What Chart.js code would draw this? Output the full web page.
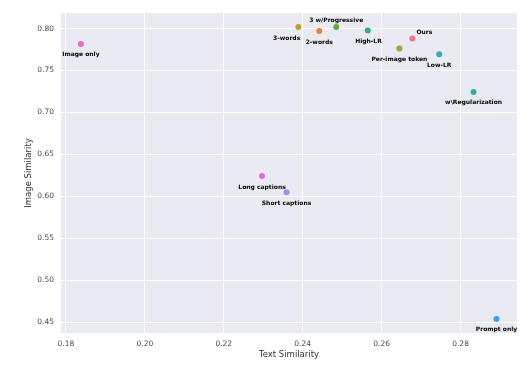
<!DOCTYPE html>
<html>
<head>
<meta charset="utf-8">
<script src="https://cdn.jsdelivr.net/npm/chart.js@4/dist/chart.umd.min.js"></script>
<style>
html,body{margin:0;padding:0;background:#fff;}
#wrap{width:524px;height:367px;}
</style>
</head>
<body>
<div id="wrap"><canvas id="c" width="524" height="367"></canvas></div>
<script>
const methods = ["Ours","2-words","3-words","Per-image token","3 w/Progressive","High-LR","w\\Regularization","Low-LR","Prompt only","Short captions","Long captions","Image only"];
const textSim  = [0.2678,0.2442,0.2389,0.2645,0.2485,0.2565,0.2833,0.2746,0.2891,0.2359,0.2297,0.1838];
const imageSim = [0.7881,0.7971,0.8019,0.7762,0.8019,0.7976,0.7245,0.7694,0.4536,0.6048,0.6242,0.7817];
const xTicks = [0.18,0.20,0.22,0.24,0.26,0.28];
const yTicks = [0.45,0.50,0.55,0.60,0.65,0.70,0.75,0.80];

const colors = ["#f77189","#e5853a","#c39a2e","#a4a031","#58ae3a","#33b07a","#36aca0","#39a8c6","#3ba2ec","#a48cf4","#e267ea","#f466c6"];
// label offsets in pixels (dx, dy) relative to the marker
const labelOffsets = [[12,-6.6],[0,11],[-11.7,11],[0,10.7],[0,-6.7],[0.7,10.4],[0,10.6],[0,10.7],[0,10.7],[0,11],[0,11],[0,10.6]];

const bgPlugin = {
  id:'bg',
  beforeDraw(chart){
    const {ctx, chartArea:a} = chart;
    ctx.save();
    ctx.fillStyle = '#eaeaf2';
    ctx.fillRect(a.left, a.top, a.right-a.left, a.bottom-a.top);
    ctx.restore();
  }
};
const labelPlugin = {
  id:'labels',
  afterDatasetsDraw(chart){
    const {ctx} = chart;
    const xs = chart.scales.x, ys = chart.scales.y;
    ctx.save();
    ctx.font = 'bold 6px "DejaVu Sans"';
    ctx.fillStyle = '#000';
    ctx.textAlign = 'center';
    ctx.textBaseline = 'middle';
    methods.forEach((m,i)=>{
      const px = xs.getPixelForValue(textSim[i]);
      const py = ys.getPixelForValue(imageSim[i]);
      ctx.fillText(m, px + labelOffsets[i][0], py + labelOffsets[i][1]);
    });
    ctx.restore();
  }
};

const datasets = methods.map((m,i)=>({
  label:m,
  data:[{x:textSim[i], y:imageSim[i]}],
  backgroundColor:colors[i],
  borderColor:colors[i],
  pointRadius:3,
  pointBorderWidth:0
}));

new Chart(document.getElementById('c'), {
  type:'scatter',
  data:{datasets},
  plugins:[bgPlugin,labelPlugin],
  options:{
    responsive:false,
    animation:false,
    devicePixelRatio:1,
    layout:{padding:{top:13,right:7,left:0,bottom:0}},
    plugins:{legend:{display:false},tooltip:{enabled:false}},
    scales:{
      x:{
        type:'linear', min:0.17876, max:0.2943,
        afterFit(s){ s.height = 34; },
        afterBuildTicks(s){ s.ticks = xTicks.map(v=>({value:v})); },
        border:{display:false},
        grid:{color:'#ffffff', lineWidth:1, drawTicks:false},
        ticks:{padding:7, color:'#4a4a4a', font:{family:'"DejaVu Sans"', size:7.5}, callback:v=>v.toFixed(2)},
        title:{display:true, text:'Text Similarity', color:'#333', font:{family:'"DejaVu Sans"', size:8.5}, padding:{top:0,bottom:7}}
      },
      y:{
        type:'linear', min:0.4369, max:0.8186,
        afterFit(s){ s.width = 61; },
        afterBuildTicks(s){ s.ticks = yTicks.map(v=>({value:v})); },
        border:{display:false},
        grid:{color:'#ffffff', lineWidth:1, drawTicks:false},
        ticks:{padding:7, color:'#4a4a4a', font:{family:'"DejaVu Sans"', size:7.5}, callback:v=>v.toFixed(2)},
        title:{display:true, text:'Image Similarity', color:'#333', font:{family:'"DejaVu Sans"', size:8.5}, padding:{top:24,bottom:0}}
      }
    }
  }
});
</script>
</body>
</html>
